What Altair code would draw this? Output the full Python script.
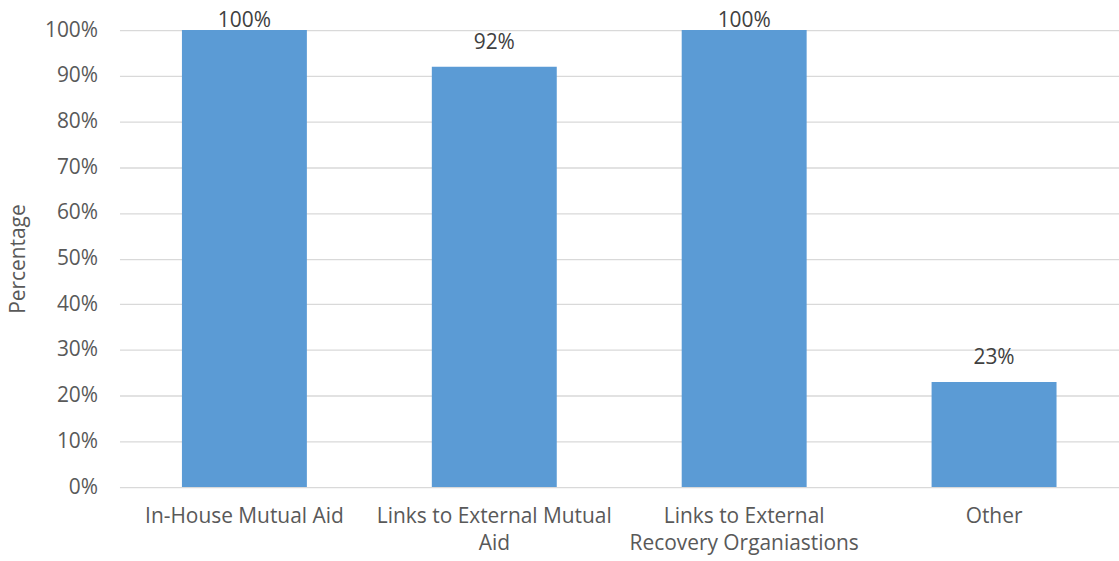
import altair as alt
import pandas as pd

categories = ["In-House Mutual Aid", "Links to External Mutual Aid",
              "Links to External Recovery Organiastions", "Other"]
values = [100, 92, 100, 23]
labels = ["100%", "92%", "100%", "23%"]

df = pd.DataFrame({"category": categories, "value": values, "label": labels})

FONT = "Open Sans"
GREY = "#595959"
FS = 21

label_expr = ("datum.value == 'Links to External Mutual Aid' ? ['Links to External Mutual', 'Aid'] : "
              "datum.value == 'Links to External Recovery Organiastions' ? ['Links to External', 'Recovery Organiastions'] : "
              "datum.value")

x = alt.X("category:N", sort=categories, title=None,
          scale=alt.Scale(paddingInner=0.5, paddingOuter=0.25),
          axis=alt.Axis(labelAngle=0, labelFont=FONT, labelFontSize=FS, labelColor=GREY,
                        labelLineHeight=27, labelPadding=19, ticks=False, domain=False,
                        grid=False, labelLimit=400, labelExpr=label_expr))

bars = alt.Chart(df).mark_bar(color="#5b9bd5").encode(
    x=x,
    y=alt.Y("value:Q", title="Percentage",
            scale=alt.Scale(domain=[0, 100]),
            axis=alt.Axis(values=list(range(0, 101, 10)), labelExpr="datum.value + '%'",
                          labelFont=FONT, labelFontSize=FS, labelColor=GREY, labelPadding=22,
                          ticks=False, domain=False, gridColor="#d9d9d9", gridWidth=1.3,
                          titleFont=FONT, titleFontSize=FS, titleColor=GREY,
                          titleFontWeight="normal", titlePadding=16))
)

text = alt.Chart(df).transform_calculate(
    ly="min(datum.value, 96.7)"
).mark_text(font=FONT, fontSize=FS, color="#404040", dy=-24, baseline="middle").encode(
    x=alt.X("category:N", sort=categories),
    y=alt.Y("ly:Q"),
    text="label:N"
)

chart = (bars + text).properties(
    width=1004, height=459,
    padding={"left": 120, "top": 29, "right": 0, "bottom": 73},
    autosize=alt.AutoSizeParams(type="none"),
    background="white"
).configure_view(stroke=None)

chart.save("out.html", embed_options={"renderer": "svg", "actions": False})
